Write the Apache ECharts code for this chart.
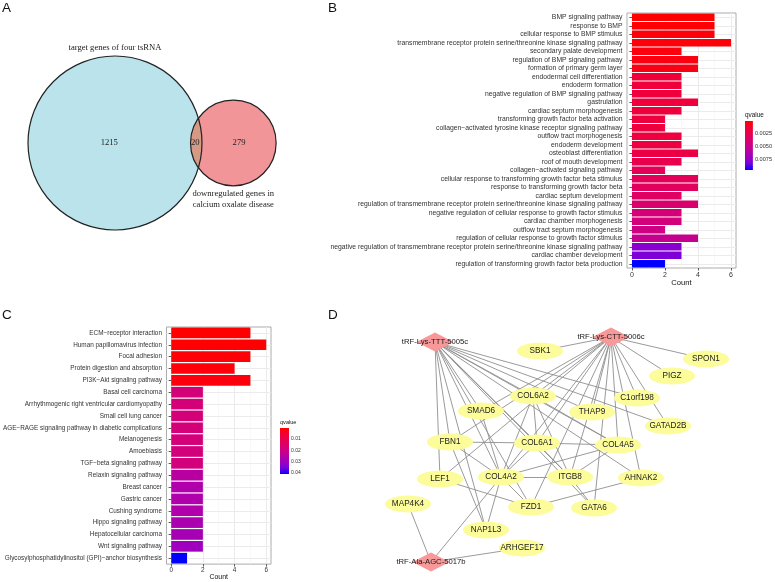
<!DOCTYPE html>
<html><head><meta charset="utf-8">
<script src="https://cdn.jsdelivr.net/npm/echarts@6/dist/echarts.min.js"></script>
<style>html,body{margin:0;padding:0;background:#fff}#c{width:775px;height:582px}</style>
</head><body><div id="c"></div>
<script>
// ---------- Panel A : Venn counts ----------
const vennOnlyA = 1215;
const vennBoth = 20;
const vennOnlyB = 279;
const vennSetLabelA = ['target genes of four tsRNA'];
const vennSetLabelB = ['downregulated genes in', 'calcium oxalate disease'];

// ---------- Panel B : GO enrichment ----------
const goTerms = [
  'BMP signaling pathway','response to BMP','cellular response to BMP stimulus',
  'transmembrane receptor protein serine/threonine kinase signaling pathway',
  'secondary palate development','regulation of BMP signaling pathway','formation of primary germ layer',
  'endodermal cell differentiation','endoderm formation','negative regulation of BMP signaling pathway',
  'gastrulation','cardiac septum morphogenesis','transforming growth factor beta activation',
  'collagen\u2212activated tyrosine kinase receptor signaling pathway','outflow tract morphogenesis',
  'endoderm development','osteoblast differentiation','roof of mouth development',
  'collagen\u2212activated signaling pathway','cellular response to transforming growth factor beta stimulus',
  'response to transforming growth factor beta','cardiac septum development',
  'regulation of transmembrane receptor protein serine/threonine kinase signaling pathway',
  'negative regulation of cellular response to growth factor stimulus','cardiac chamber morphogenesis',
  'outflow tract septum morphogenesis','regulation of cellular response to growth factor stimulus',
  'negative regulation of transmembrane receptor protein serine/threonine kinase signaling pathway',
  'cardiac chamber development','regulation of transforming growth factor beta production'
];
const goCounts = [5,5,5,6,3,4,4,3,3,3,4,3,2,2,3,3,4,3,2,4,4,3,4,3,3,2,4,3,3,2];
const goQvalues = [0.0002,0.0003,0.0004,0.0004,0.0005,0.0006,0.0007,0.0017,0.0017,0.0018,0.0018,0.0018,0.0019,0.0019,0.0019,0.0020,0.0021,0.0024,0.0028,0.0029,0.0031,0.0033,0.0037,0.0040,0.0042,0.0045,0.0050,0.0076,0.0079,0.0094];
const goQTicks = [0.0025, 0.005, 0.0075];

// ---------- Panel C : KEGG enrichment ----------
const keggTerms = [
  'ECM\u2212receptor interaction','Human papillomavirus infection','Focal adhesion',
  'Protein digestion and absorption','PI3K\u2212Akt signaling pathway','Basal cell carcinoma',
  'Arrhythmogenic right ventricular cardiomyopathy','Small cell lung cancer',
  'AGE\u2212RAGE signaling pathway in diabetic complications','Melanogenesis','Amoebiasis',
  'TGF\u2212beta signaling pathway','Relaxin signaling pathway','Breast cancer','Gastric cancer',
  'Cushing syndrome','Hippo signaling pathway','Hepatocellular carcinoma','Wnt signaling pathway',
  'Glycosylphosphatidylinositol (GPI)\u2212anchor biosynthesis'
];
const keggCounts = [5,6,5,4,5,2,2,2,2,2,2,2,2,2,2,2,2,2,2,1];
const keggQvalues = [0.0003,0.0005,0.0008,0.0012,0.0016,0.0176,0.0176,0.0176,0.0178,0.0178,0.0180,0.0182,0.0250,0.0268,0.0268,0.0268,0.0276,0.0285,0.0298,0.0410];
const keggQTicks = [0.01, 0.02, 0.03, 0.04];

const countTicks = [0, 2, 4, 6];
const countMinorTicks = [1, 3, 5];

// ---------- Panel D : tsRNA - target network ----------
const tsrnaNodes = ['tRF-Lys-TTT-5005c','tRF-Lys-CTT-5006c','tRF-Ala-AGC-5017b'];
const geneNodes = ['SBK1','SPON1','PIGZ','C1orf198','COL6A2','SMAD6','THAP9','GATAD2B','FBN1','COL6A1',
  'COL4A5','LEF1','COL4A2','ITGB8','AHNAK2','MAP4K4','FZD1','GATA6','NAP1L3','ARHGEF17'];
// layout coordinates of the network (tsRNAs first, then genes)
const layoutX = [40,216,36, 145,311,277,242,138,86,197,273,55,142,223,45,106,175,246,13,136,199,91,127];
const layoutY = [17,12,237, 26,34,51,73,71,86,87,101,117,118,120,154,152,152,153,179,182,183,205,223];
const edges = [
  ['tRF-Lys-TTT-5005c','SMAD6'],['tRF-Lys-TTT-5005c','COL6A2'],['tRF-Lys-TTT-5005c','C1orf198'],
  ['tRF-Lys-TTT-5005c','GATAD2B'],['tRF-Lys-TTT-5005c','THAP9'],['tRF-Lys-TTT-5005c','FBN1'],
  ['tRF-Lys-TTT-5005c','COL6A1'],['tRF-Lys-TTT-5005c','COL4A5'],['tRF-Lys-TTT-5005c','LEF1'],
  ['tRF-Lys-TTT-5005c','COL4A2'],['tRF-Lys-TTT-5005c','ITGB8'],['tRF-Lys-TTT-5005c','AHNAK2'],
  ['tRF-Lys-TTT-5005c','FZD1'],['tRF-Lys-TTT-5005c','NAP1L3'],['tRF-Lys-TTT-5005c','GATA6'],
  ['tRF-Lys-CTT-5006c','SBK1'],['tRF-Lys-CTT-5006c','SPON1'],['tRF-Lys-CTT-5006c','PIGZ'],
  ['tRF-Lys-CTT-5006c','C1orf198'],['tRF-Lys-CTT-5006c','GATAD2B'],['tRF-Lys-CTT-5006c','THAP9'],
  ['tRF-Lys-CTT-5006c','COL6A2'],['tRF-Lys-CTT-5006c','SMAD6'],['tRF-Lys-CTT-5006c','FBN1'],
  ['tRF-Lys-CTT-5006c','COL6A1'],['tRF-Lys-CTT-5006c','COL4A5'],['tRF-Lys-CTT-5006c','COL4A2'],
  ['tRF-Lys-CTT-5006c','ITGB8'],['tRF-Lys-CTT-5006c','FZD1'],['tRF-Lys-CTT-5006c','GATA6'],
  ['tRF-Lys-CTT-5006c','AHNAK2'],['tRF-Lys-CTT-5006c','LEF1'],
  ['tRF-Ala-AGC-5017b','MAP4K4'],['tRF-Ala-AGC-5017b','COL4A2'],['tRF-Ala-AGC-5017b','ARHGEF17'],
  ['FBN1','COL6A1'],['COL6A1','COL4A5'],['LEF1','FZD1'],['FBN1','NAP1L3'],['COL4A2','NAP1L3'],
  ['COL4A2','FZD1'],['COL4A2','ITGB8'],['FZD1','AHNAK2'],['ITGB8','GATA6'],['COL4A5','ITGB8'],
  ['COL4A2','COL4A5'],['COL6A1','COL4A2'],['COL6A1','ITGB8'],['COL6A2','COL4A2'],['COL6A2','ITGB8'],
  ['FBN1','COL4A2'],['SMAD6','COL4A2'],['COL6A2','COL4A5'],['COL6A2','COL6A1']
];

// ---------- helpers ----------
const F = 'Liberation Sans, Arial, Helvetica, sans-serif';
const SERIF = 'Liberation Serif, Times New Roman, serif';
const qColors = ['#FF0000','#F40031','#E8004F','#DA006C','#CA0089','#B500A5','#9A00C3','#7300E0','#0000FF'];
const gradient = {type:'linear', x:0, y:0, x2:0, y2:1,
  colorStops: qColors.map((c,i)=>({offset:i/(qColors.length-1), color:c}))};
const qMinB = Math.min(...goQvalues), qMaxB = Math.max(...goQvalues);
const qMinC = Math.min(...keggQvalues), qMaxC = Math.max(...keggQvalues);

// Venn geometry: circle areas proportional to set sizes, overlap area = shared count
const nA = vennOnlyA + vennBoth, nB = vennOnlyB + vennBoth;
const r1 = Math.sqrt(nA/Math.PI), r2 = Math.sqrt(nB/Math.PI);
function lensArea(d){
  if (d >= r1+r2) return 0;
  if (d <= Math.abs(r1-r2)) return Math.PI*Math.min(r1,r2)**2;
  const a1 = Math.acos((d*d+r1*r1-r2*r2)/(2*d*r1));
  const a2 = Math.acos((d*d+r2*r2-r1*r1)/(2*d*r2));
  return r1*r1*a1 + r2*r2*a2 - 0.5*Math.sqrt((-d+r1+r2)*(d+r1-r2)*(d-r1+r2)*(d+r1+r2));
}
let lo = Math.abs(r1-r2), hi = r1+r2;
for (let k=0;k<80;k++){ const m=(lo+hi)/2; if (lensArea(m) > vennBoth) lo=m; else hi=m; }
const dC = (lo+hi)/2;
const vennScale = 87 / r1; // px per unit
const vennGrid = {left:28, top:56, width:(r1+dC+r2)*vennScale, height:2*r1*vennScale};

function vennRender(params, api){
  const c1 = api.coord([0,0]), c2 = api.coord([dC,0]);
  const R1 = api.size([r1,0])[0], R2 = api.size([r2,0])[0];
  const xi = (dC*dC + r1*r1 - r2*r2)/(2*dC), yi = Math.sqrt(r1*r1 - xi*xi);
  const a1 = Math.atan2(yi, xi), b = Math.atan2(yi, xi - dC);
  const pts = [];
  for (let k=0;k<=60;k++){ const t=-a1+2*a1*k/60; pts.push(api.coord([r1*Math.cos(t), r1*Math.sin(t)])); }
  for (let k=0;k<=60;k++){ const t=b+(2*Math.PI-2*b)*k/60; pts.push(api.coord([dC+r2*Math.cos(t), r2*Math.sin(t)])); }
  const txt = (p, text, dy, dx) => ({type:'text', x:p[0]+(dx||0), y:p[1]+(dy||0),
    style:{text:text, fontSize:8.6, fontFamily:SERIF, fill:'#222', align:'center', verticalAlign:'middle'}});
  const pOnlyA = api.coord([(-r1 + dC - r2)/2, 0]);
  const pBoth = api.coord([((dC - r2) + r1)/2, 0]);
  const pOnlyB = api.coord([(r1 + dC + r2)/2, 0]);
  const pTopA = api.coord([0, r1]);
  const pBotB = api.coord([dC, -r2]);
  return {type:'group', children:[
    {type:'circle', shape:{cx:c1[0], cy:c1[1], r:R1}, style:{fill:'#BAE3EB'}},
    {type:'circle', shape:{cx:c2[0], cy:c2[1], r:R2}, style:{fill:'#F19598'}},
    {type:'polygon', shape:{points:pts}, style:{fill:'#D49A86'}},
    {type:'circle', shape:{cx:c1[0], cy:c1[1], r:R1}, style:{fill:'none', stroke:'#222', lineWidth:1.2}},
    {type:'circle', shape:{cx:c2[0], cy:c2[1], r:R2}, style:{fill:'none', stroke:'#222', lineWidth:1.2}},
    txt(pOnlyA, String(vennOnlyA)),
    txt(pBoth, String(vennBoth), 0, -1),
    txt(pOnlyB, String(vennOnlyB)),
    txt(pTopA, vennSetLabelA[0], -8),
    txt(pBotB, vennSetLabelB[0], 8),
    txt(pBotB, vennSetLabelB[1], 19)
  ]};
}

// bar-panel axis builders
function majorX(grid, fs, fsName, margin, nameGap){
  return {gridIndex:grid, type:'value', min:-0.3, max:6.3, position:'bottom',
    axisLine:{show:false},
    axisTick:{show:true, customValues:countTicks, length:2.5, lineStyle:{color:'#333', width:0.8}},
    axisLabel:{customValues:countTicks, fontSize:fs, color:'#333', margin:margin, fontFamily:F},
    splitLine:{show:true, lineStyle:{color:'#EBEBEB', width:1}},
    name:'Count', nameLocation:'middle', nameGap:nameGap,
    nameTextStyle:{fontSize:fsName, color:'#111', fontFamily:F}};
}
function minorX(grid){
  return {gridIndex:grid, type:'value', min:-0.3, max:6.3, position:'bottom',
    axisLine:{show:false}, axisTick:{show:false, customValues:countMinorTicks}, axisLabel:{show:false},
    splitLine:{show:true, lineStyle:{color:'#F4F4F4', width:0.6}}};
}
function catY(grid, terms, fs){
  return {gridIndex:grid, type:'category', data:terms, inverse:true,
    axisLine:{show:false},
    axisTick:{show:true, alignWithLabel:true, interval:0, length:2.5, lineStyle:{color:'#333', width:0.8}},
    axisLabel:{interval:0, fontSize:fs, color:'#333', margin:4.5, fontFamily:F},
    splitLine:{show:true, alignWithLabel:true, interval:0, lineStyle:{color:'#EBEBEB', width:1}}};
}
function legendY(grid, qmin, qmax, ticks, dec, fs){
  return {gridIndex:grid, type:'value', min:qmin, max:qmax, inverse:true, position:'right',
    axisLine:{show:false},
    axisTick:{show:true, inside:true, customValues:ticks, length:2.5, lineStyle:{color:'#fff', width:0.8}},
    axisLabel:{customValues:ticks, formatter:v=>v.toFixed(dec), fontSize:fs, color:'#333', margin:2, fontFamily:F},
    splitLine:{show:false}};
}

// network nodes
const allNodes = tsrnaNodes.concat(geneNodes);
const nodeIndex = {}; allNodes.forEach((n,i)=>nodeIndex[n]=i);
const ELLIPSE = 'path://M0,50A50,50,0,1,1,100,50A50,50,0,1,1,0,50Z';
const graphNodes = allNodes.map((n,i)=>{
  const isT = i < tsrnaNodes.length;
  return {name:n, value:[layoutX[i], layoutY[i]],
    symbol: isT ? 'diamond' : ELLIPSE,
    symbolSize: isT ? [37,19] : [46,17],
    itemStyle:{color: isT ? '#F89898' : '#FCFC9A'},
    label:{fontSize: isT ? 7.7 : 8.2}};
});
const graphLinks = edges.map(([s,t])=>({source:nodeIndex[s], target:nodeIndex[t]}));

const letter = (t, l, tp) => ({text:t, left:l, top:tp, padding:0,
  textStyle:{fontSize:13.5, fontWeight:'normal', color:'#111', fontFamily:F}});
const legendTitle = (l, tp, fs) => ({text:'qvalue', left:l, top:tp, padding:0,
  textStyle:{fontSize:fs, fontWeight:'normal', color:'#111', fontFamily:F}});

const chart = echarts.init(document.getElementById('c'), null, {renderer:'canvas'});
chart.setOption({
  animation:false,
  backgroundColor:'#fff',
  title:[
    letter('A', 2, 1), letter('B', 328, 1), letter('C', 2, 308), letter('D', 328, 308),
    legendTitle(745, 112, 6.4), legendTitle(280, 419, 5.6)
  ],
  grid:[
    Object.assign({show:false}, vennGrid),
    {left:627, top:13, width:109, height:255, show:true, borderColor:'#ababab', borderWidth:1, backgroundColor:'transparent'},
    {left:745, top:121, width:13, height:49, show:true, borderWidth:0, backgroundColor:gradient},
    {left:163, top:327, width:108, height:239, show:true, borderColor:'#ababab', borderWidth:1, backgroundColor:'transparent'},
    {left:280, top:428, width:9, height:46, show:true, borderWidth:0, backgroundColor:gradient},
    {left:395, top:325, width:350, height:250, show:false}
  ],
  xAxis:[
    {gridIndex:0, type:'value', min:-r1, max:dC+r2, show:false},
    majorX(1, 7, 7.6, 3.5, 11),
    minorX(1),
    {gridIndex:2, type:'value', show:false},
    majorX(3, 6.4, 6.9, 3, 8.5),
    minorX(3),
    {gridIndex:4, type:'value', show:false},
    {gridIndex:5, type:'value', min:0, max:350, show:false}
  ],
  yAxis:[
    {gridIndex:0, type:'value', min:-r1, max:r1, show:false},
    catY(1, goTerms, 6.8),
    legendY(2, qMinB, qMaxB, goQTicks, 4, 5.6),
    catY(3, keggTerms, 6.4),
    legendY(4, qMinC, qMaxC, keggQTicks, 2, 5),
    {gridIndex:5, type:'value', min:0, max:250, inverse:true, show:false}
  ],
  visualMap:[
    {type:'continuous', show:false, seriesIndex:1, dimension:2, min:qMinB, max:qMaxB, inRange:{color:qColors}},
    {type:'continuous', show:false, seriesIndex:2, dimension:2, min:qMinC, max:qMaxC, inRange:{color:qColors}}
  ],
  series:[
    {type:'custom', xAxisIndex:0, yAxisIndex:0, silent:true, renderItem:vennRender, data:[[0,0]]},
    {type:'bar', xAxisIndex:1, yAxisIndex:1, silent:true, barCategoryGap:'10%',
      encode:{x:0, y:1}, data:goTerms.map((t,i)=>[goCounts[i], i, goQvalues[i]])},
    {type:'bar', xAxisIndex:4, yAxisIndex:3, silent:true, barCategoryGap:'10%',
      encode:{x:0, y:1}, data:keggTerms.map((t,i)=>[keggCounts[i], i, keggQvalues[i]])},
    {type:'graph', coordinateSystem:'cartesian2d', xAxisIndex:7, yAxisIndex:5, layout:'none', silent:true,
      data:graphNodes, links:graphLinks,
      lineStyle:{color:'#8f8f8f', width:0.9, opacity:1, curveness:0},
      label:{show:true, position:'inside', color:'#1a1a1a', fontFamily:F},
      emphasis:{disabled:true}}
  ]
});
</script></body></html>
